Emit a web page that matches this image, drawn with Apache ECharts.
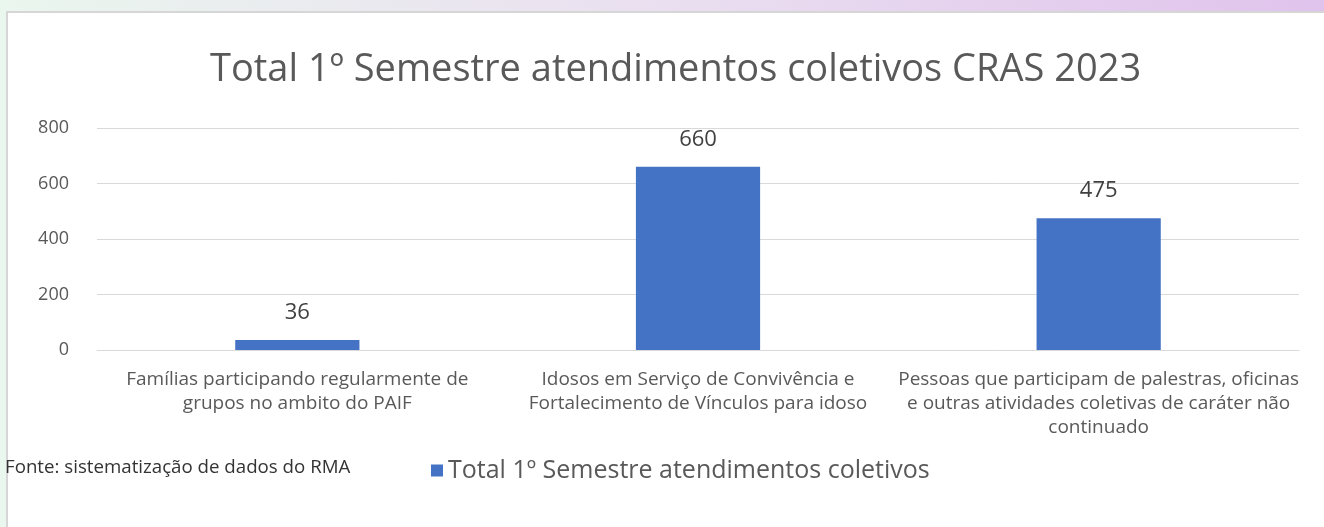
<!DOCTYPE html>
<html>
<head>
<meta charset="utf-8">
<script src="https://cdn.jsdelivr.net/npm/echarts@6/dist/echarts.min.js"></script>
<style>
html,body{margin:0;padding:0;background:#fff;}
#c{width:1324px;height:527px;}
</style>
</head>
<body>
<div id="c"></div>
<script>
const titleText = 'Total 1º Semestre atendimentos coletivos CRAS 2023';
const seriesName = 'Total 1º Semestre atendimentos coletivos';
const sourceText = 'Fonte: sistematização de dados do RMA';
const categories = [
  'Famílias participando regularmente de\ngrupos no ambito do PAIF',
  'Idosos em Serviço de Convivência e\nFortalecimento de Vínculos para idoso',
  'Pessoas que participam de palestras, oficinas\ne outras atividades coletivas de caráter não\ncontinuado'
];
const values = [36, 660, 475];
const yTicks = { min: 0, max: 800, interval: 200 };

const chart = echarts.init(document.getElementById('c'));
const FONT = 'Open Sans';
chart.setOption({
  backgroundColor: '#ffffff',
  animation: false,
  graphic: [
    { type: 'rect', z: -10, silent: true, shape: { x: 0, y: 0, width: 1324, height: 13 },
      style: { fill: new echarts.graphic.LinearGradient(0, 0, 1, 0, [
        { offset: 0, color: '#eaf6ee' }, { offset: 0.5, color: '#eadff0' }, { offset: 1, color: '#e0c3ec' }]) } },
    { type: 'rect', z: -10, silent: true, shape: { x: 0, y: 0, width: 7, height: 527 },
      style: { fill: '#eaf7ee' } },
    { type: 'rect', z: -9, silent: true, shape: { x: 7, y: 12, width: 1330, height: 530 },
      style: { fill: '#ffffff', stroke: '#d6d6d6', lineWidth: 2 } },
    { type: 'text', left: 5, top: 458, z: 10,
      style: { text: sourceText, font: '18.7px "Open Sans"', fill: '#333333' } }
  ],
  title: {
    text: titleText,
    left: 205,
    top: 46,
    textStyle: { fontFamily: FONT, fontSize: 38, fontWeight: 'normal', color: '#595959' }
  },
  legend: {
    data: [seriesName],
    left: 426,
    top: 453,
    icon: 'rect',
    itemWidth: 12,
    itemHeight: 12,
    itemGap: 6,
    textStyle: { fontFamily: FONT, fontSize: 25, color: '#595959' }
  },
  grid: { left: 97, right: 25, top: 128, bottom: 177, containLabel: false },
  xAxis: {
    type: 'category',
    data: categories,
    axisLine: { lineStyle: { color: '#d9d9d9', width: 1 } },
    axisTick: { show: false },
    axisLabel: { fontFamily: FONT, fontSize: 19, color: '#595959', lineHeight: 24, margin: 18, interval: 0 }
  },
  yAxis: {
    type: 'value',
    min: yTicks.min,
    max: yTicks.max,
    interval: yTicks.interval,
    axisLine: { show: false },
    axisTick: { show: false },
    splitLine: { lineStyle: { color: '#d9d9d9', width: 1 } },
    axisLabel: { fontFamily: FONT, fontSize: 18, color: '#595959', margin: 28 }
  },
  series: [{
    name: seriesName,
    type: 'bar',
    data: values,
    barWidth: '31%',
    itemStyle: { color: '#4472c4' },
    label: { show: true, position: 'top', distance: 16, fontFamily: FONT, fontSize: 22, color: '#404040' }
  }]
});
</script>
</body>
</html>
